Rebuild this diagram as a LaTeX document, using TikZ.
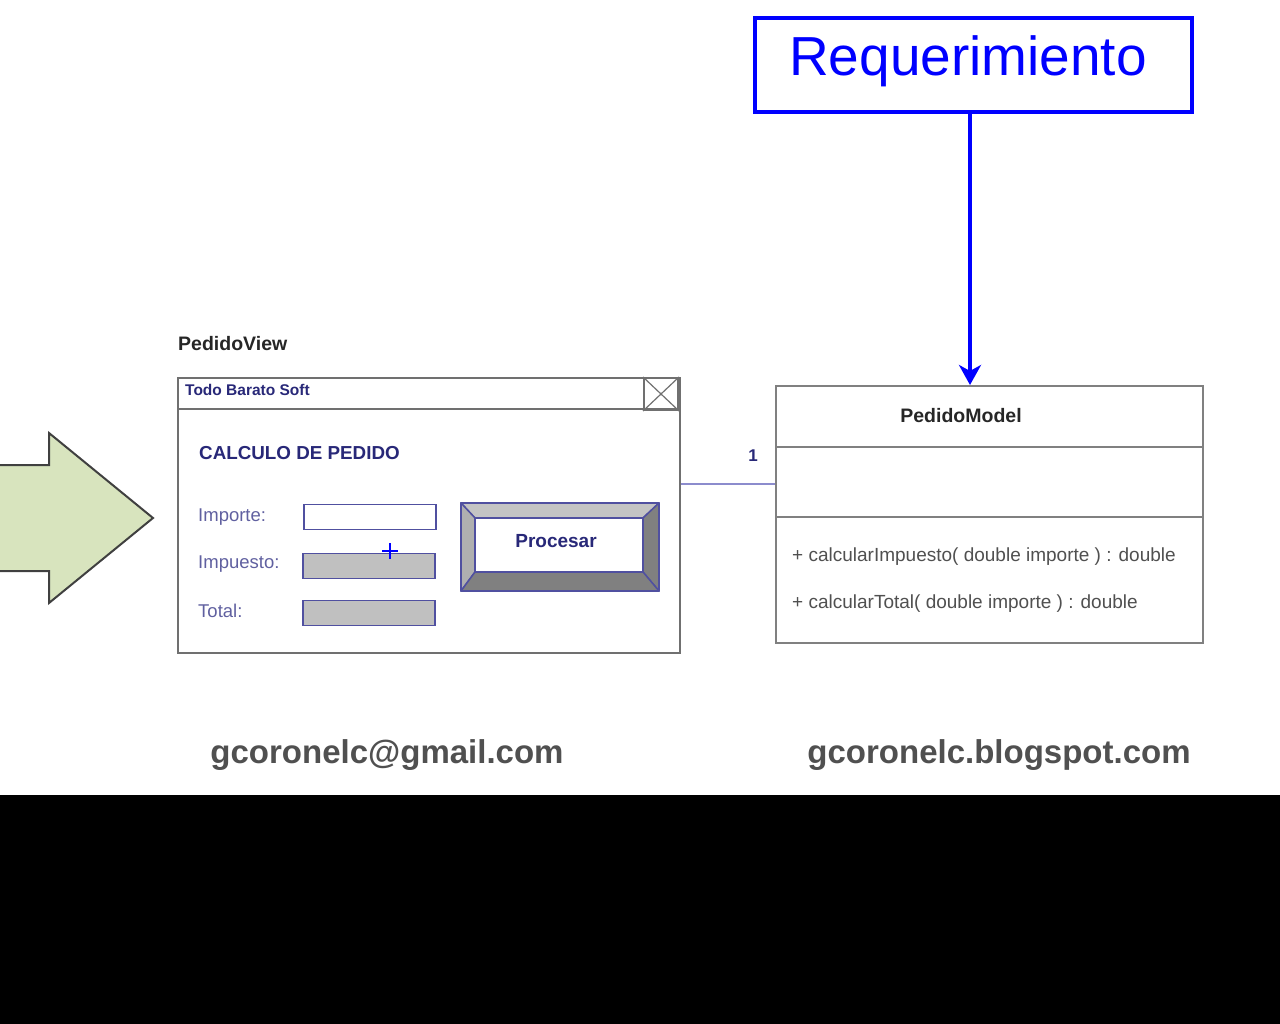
\documentclass[tikz,border=0pt]{standalone}
\usepackage{fontspec}
\setmainfont{Liberation Sans}
\usetikzlibrary{arrows.meta, positioning}

\definecolor{reqblue}{RGB}{0,0,255}
\definecolor{navytext}{RGB}{40,40,120}
\definecolor{labeltext}{RGB}{96,96,160}
\definecolor{fieldline}{RGB}{80,80,160}
\definecolor{assocline}{RGB}{140,140,205}
\definecolor{fieldgray}{RGB}{192,192,192}
\definecolor{bevellight}{RGB}{196,196,196}
\definecolor{beveldark}{RGB}{128,128,128}
\definecolor{framegray}{RGB}{112,112,112}
\definecolor{arrowgreen}{RGB}{216,228,190}
\definecolor{footgray}{RGB}{80,80,80}

\tikzset{
  reqbox/.style={draw=reqblue, line width=4pt},
  reqtext/.style={text=reqblue, inner sep=0pt, font=\fontsize{55}{60}\selectfont},
  winbox/.style={draw=framegray, line width=2pt, fill=white},
  umlbox/.style={draw=beveldark, line width=2pt, fill=white},
  field/.style={draw=fieldline, line width=1.8pt, minimum width=132pt, minimum height=25pt, anchor=west, inner sep=0pt},
  fieldlabel/.style={anchor=west, text=labeltext, inner sep=0pt, font=\fontsize{18.5}{20}\selectfont},
  method/.style={anchor=west, text=footgray, inner sep=0pt, font=\fontsize{19}{21}\selectfont},
  footer/.style={text=footgray, font=\bfseries\fontsize{33}{36}\selectfont},
  assoc/.style={draw=assocline, line width=2pt}
}

\begin{document}
\begin{tikzpicture}[x=1pt, y=-1pt]
  \fill[white] (0,0) rectangle (1280,795);
  \fill[black] (0,795) rectangle (1280,1024);
  \useasboundingbox (0,0) rectangle (1280,1024);

  % big arrow on the left
  \draw[fill=arrowgreen, draw=black!75, line width=2pt, line join=miter]
    (-5,465) -- (49,465) -- (49,433) -- (153,518) -- (49,603) -- (49,571) -- (-5,571) -- cycle;

  % the view window
  \node[anchor=west, inner sep=0pt, text=black!85, font=\bfseries\fontsize{19.5}{21}\selectfont] (viewname) at (178,344) {PedidoView};
  \node[winbox, minimum width=502pt, minimum height=275pt, anchor=north west, inner sep=0pt] (view) at (177,377) {};
  \draw[framegray, line width=2pt] ([yshift=-32pt]view.north west) -- ([yshift=-32pt]view.north east);
  \node[draw=framegray, line width=2pt, minimum width=34pt, minimum height=32pt, anchor=north east, inner sep=0pt] (closebox) at ([xshift=-2pt]view.north east) {};
  \draw[framegray, line width=1.2pt] (closebox.north west) -- (closebox.south east)
    (closebox.north east) -- (closebox.south west);
  \node[anchor=west, inner sep=0pt, text=navytext, font=\bfseries\fontsize{15.5}{17}\selectfont] (wintitle) at (185,390) {Todo Barato Soft};
  \node[anchor=west, inner sep=0pt, text=navytext, font=\bfseries\fontsize{18.8}{21}\selectfont] (calc) at (199,453) {CALCULO DE PEDIDO};

  \node[fieldlabel] (lblimporte) at (198,517) {Importe:};
  \node[fieldlabel] (lblimpuesto) at (198,564) {Impuesto:};
  \node[fieldlabel] (lbltotal) at (198,611) {Total:};
  \node[field, fill=white] (fimporte) at (303,517) {};
  \node[field, fill=fieldgray] (fimpuesto) at (302,566) {};
  \node[field, fill=fieldgray] (ftotal) at (302,613) {};

  % cursor
  \draw[reqblue, line width=2.5pt] (382,551) -- (398,551) (390,543) -- (390,559);

  % the Procesar button
  \coordinate (bo1) at (461,503);
  \coordinate (bo2) at (659,503);
  \coordinate (bo3) at (659,591);
  \coordinate (bo4) at (461,591);
  \coordinate (bi1) at (475,518);
  \coordinate (bi2) at (643,518);
  \coordinate (bi3) at (643,572);
  \coordinate (bi4) at (475,572);
  \begin{scope}[draw=fieldline, line width=1.5pt, line join=round]
    \filldraw[fill=bevellight] (bo1) -- (bo2) -- (bi2) -- (bi1) -- cycle;
    \filldraw[fill=bevellight!90!black] (bo1) -- (bi1) -- (bi4) -- (bo4) -- cycle;
    \filldraw[fill=beveldark] (bo2) -- (bo3) -- (bi3) -- (bi2) -- cycle;
    \filldraw[fill=beveldark] (bo4) -- (bi4) -- (bi3) -- (bo3) -- cycle;
    \filldraw[fill=white] (bi1) rectangle (bi3);
    \draw[line width=2pt] (bo1) rectangle (bo3);
  \end{scope}
  \node[text=navytext, inner sep=0pt, font=\bfseries\fontsize{19}{21}\selectfont] (procesar) at (556,541) {Procesar};

  % the model class
  \node[umlbox, minimum width=427pt, minimum height=257pt, anchor=north west, inner sep=0pt] (model) at (775,385) {};
  \draw[beveldark, line width=2pt] ([yshift=-62pt]model.north west) -- ([yshift=-62pt]model.north east)
    ([yshift=-132pt]model.north west) -- ([yshift=-132pt]model.north east);
  \node[text=black!85, inner sep=0pt, font=\bfseries\fontsize{19.5}{21}\selectfont] (modelname) at (961,416) {PedidoModel};
  \node[method] (m1) at (792,557) {+ calcularImpuesto( double importe ) : double};
  \node[method] (m2) at (792,604) {+ calcularTotal( double importe ) : double};

  % association
  \draw[assoc] ([yshift=32pt]view.east) -- ([yshift=32pt]view.east -| model.west);
  \node[text=navytext, inner sep=0pt, font=\bfseries\fontsize{17}{19}\selectfont] (mult) at (753,456) {1};

  % requirement
  \node[reqbox, minimum width=437pt, minimum height=94pt, inner sep=0pt] (req) at (973.5,65) {};
  \node[reqtext] (reqlabel) at (968,61) {Requerimiento};
  \coordinate (mtop) at (970,385);
  \draw[reqblue, line width=4pt, -{Stealth[length=20pt, width=22pt, inset=6pt]}] (req.south -| mtop) -- (mtop);

  % footer
  \node[footer] (mail) at (387,755) {gcoronelc@gmail.com};
  \node[footer] (blog) at (999,755) {gcoronelc.blogspot.com};
\end{tikzpicture}
\end{document}
